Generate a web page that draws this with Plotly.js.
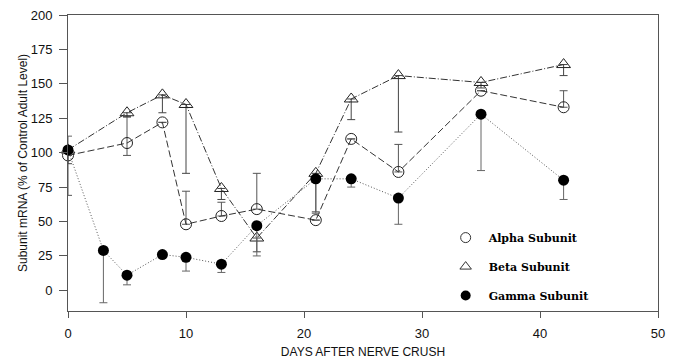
<!DOCTYPE html>
<html>
<head>
<meta charset="utf-8">
<script src="https://cdn.plot.ly/plotly-3.0.1.min.js"></script>
<style>html,body{margin:0;padding:0;background:#fff;}#chart{width:674px;height:362px;}</style>
</head>
<body>
<div id="chart"></div>
<script>
// Days after nerve crush
const alphaDays = [0, 5, 8, 10, 13, 16, 21, 24, 28, 35, 42];
const alphaVals = [98, 107, 122, 48, 54, 59, 51, 110, 86, 145, 133];
const alphaErrPlus = [0, 19, 0, 24, 10, 26, 0, 0, 20, 0, 12];
const alphaErrMinus = [29, 9, 0, 0, 0, 0, 0, 0, 0, 0, 0];

const betaDays = [0, 5, 8, 10, 13, 16, 21, 24, 28, 35, 42];
const betaVals = [102, 129, 142, 135, 74, 38, 85, 139, 156, 151, 164];
const betaErrPlus = [0, 0, 0, 0, 0, 0, 0, 0, 0, 0, 0];
const betaErrMinus = [10, 3, 13, 50, 8, 10, 28, 15, 41, 4, 8];

const gammaDays = [0, 3, 5, 8, 10, 13, 16, 21, 24, 28, 35, 42];
const gammaVals = [102, 29, 11, 26, 24, 19, 47, 81, 81, 67, 128, 80];
const gammaErrPlus = [10, 0, 0, 0, 0, 0, 0, 0, 0, 0, 0, 0];
const gammaErrMinus = [0, 38, 7, 0, 10, 6, 22, 25, 6, 19, 41, 14];

const seriesNames = ['Alpha Subunit', 'Beta Subunit', 'Gamma Subunit'];
const xTicks = [0, 10, 20, 30, 40, 50];
const yTicks = [0, 25, 50, 75, 100, 125, 150, 175, 200];

const axisColor = '#555';

function errY(plus, minus, color) {
  return {type: 'data', symmetric: false, array: plus, arrayminus: minus,
          color: color, thickness: 1, width: 4};
}

const traces = [
  {x: alphaDays, y: alphaVals, mode: 'lines+markers', showlegend: false, cliponaxis: false,
   line: {color: '#333', width: 1, dash: '7px,3px'},
   marker: {symbol: 'circle-open', size: 11, color: '#222', line: {width: 1}},
   error_y: errY(alphaErrPlus, alphaErrMinus, '#555')},
  {x: betaDays, y: betaVals, mode: 'lines+markers', showlegend: false, cliponaxis: false,
   line: {color: '#333', width: 1, dash: '7px,2px,1px,2px'},
   marker: {symbol: 'triangle-up-open', size: 12, color: '#222', line: {width: 1}},
   error_y: errY(betaErrPlus, betaErrMinus, '#444')},
  {x: gammaDays, y: gammaVals, mode: 'lines+markers', showlegend: false, cliponaxis: false,
   line: {color: '#555', width: 1, dash: '1px,2px'},
   marker: {symbol: 'circle', size: 11, color: '#000'},
   error_y: errY(gammaErrPlus, gammaErrMinus, '#666')},
  {x: [null], y: [null], mode: 'markers', name: seriesNames[0], legendgroup: 'a',
   marker: {symbol: 'circle-open', size: 10, color: '#333', line: {width: 1}}},
  {x: [null], y: [null], mode: 'markers', name: seriesNames[1], legendgroup: 'b',
   marker: {symbol: 'triangle-up-open', size: 10, color: '#333', line: {width: 1}}},
  {x: [null], y: [null], mode: 'markers', name: seriesNames[2], legendgroup: 'c',
   marker: {symbol: 'circle', size: 10, color: '#000'}}
];

const layout = {
  width: 674, height: 362,
  margin: {l: 68, r: 16, t: 15, b: 51},
  paper_bgcolor: '#fff', plot_bgcolor: '#fff',
  font: {family: 'Liberation Sans, Arial, sans-serif', size: 13, color: '#111'},
  xaxis: {
    range: [0, 50], tickvals: xTicks, ticktext: xTicks.map(String),
    showgrid: false, zeroline: false, showline: true, mirror: true,
    linecolor: axisColor, linewidth: 1, ticks: 'outside', ticklen: 6, tickcolor: axisColor,
    tickfont: {size: 13}, ticklabelstandoff: 4,
    title: {text: 'DAYS AFTER NERVE CRUSH', font: {size: 12}, standoff: 8}
  },
  yaxis: {
    range: [-15, 200], tickvals: yTicks, ticktext: yTicks.map(String),
    showgrid: false, zeroline: false, showline: true, mirror: true,
    linecolor: axisColor, linewidth: 1, ticks: 'outside', ticklen: 8, tickcolor: axisColor,
    tickfont: {size: 13}, ticklabelstandoff: 4,
    title: {text: 'Subunit mRNA (% of Control Adult Level)', font: {size: 12}, standoff: 0}
  },
  legend: {
    x: 0.635, y: 0.297, xanchor: 'left', yanchor: 'top',
    bgcolor: 'rgba(0,0,0,0)', borderwidth: 0, itemwidth: 36,
    traceorder: 'grouped', tracegroupgap: 10,
    font: {family: 'DejaVu Serif, serif', size: 11, color: '#000', weight: 'bold'}
  },
  showlegend: true
};

Plotly.newPlot('chart', traces, layout, {displayModeBar: false, staticPlot: true});
</script>
</body>
</html>
